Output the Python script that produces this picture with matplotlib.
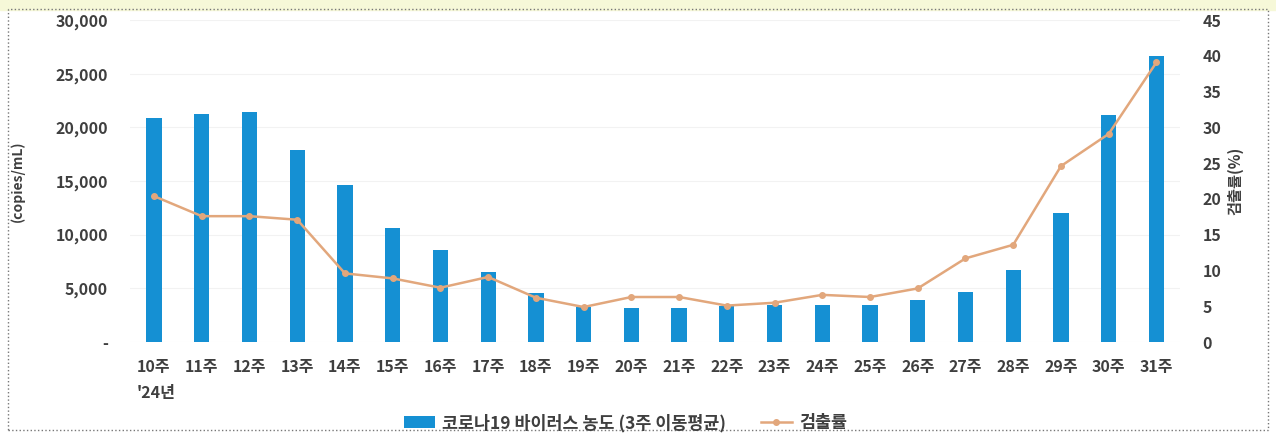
import numpy as np
import matplotlib
matplotlib.use('Agg')
import matplotlib.pyplot as plt
from matplotlib.patches import Rectangle

plt.rcParams['font.family'] = ['Noto Sans CJK KR', 'DejaVu Sans']

weeks = ['10주', '11주', '12주', '13주', '14주', '15주', '16주', '17주', '18주', '19주', '20주',
         '21주', '22주', '23주', '24주', '25주', '26주', '27주', '28주', '29주', '30주', '31주']
# 코로나19 바이러스 농도 (copies/mL, 3주 이동평균)
conc = [20900, 21300, 21400, 17900, 14600, 10600, 8600, 6500, 4600, 3300, 3200,
        3200, 3400, 3500, 3500, 3500, 3900, 4700, 6700, 12000, 21200, 26700]
# 검출률 (%)
rate = [20.4, 17.6, 17.6, 17.1, 9.6, 8.9, 7.6, 9.1, 6.2, 4.9, 6.3,
        6.3, 5.1, 5.5, 6.6, 6.3, 7.5, 11.7, 13.6, 24.6, 29.1, 39.1]

left_ticks = [0, 5000, 10000, 15000, 20000, 25000, 30000]
left_labels = ['-', '5,000', '10,000', '15,000', '20,000', '25,000', '30,000']
right_ticks = [0, 5, 10, 15, 20, 25, 30, 35, 40, 45]

txt = '#3f3f3f'
blue = '#1590d3'
orange = '#e2a77c'

fig = plt.figure(figsize=(12.76, 4.38), dpi=100)
ax = fig.add_axes([0.102, 0.219, 0.823, 0.735])
ax2 = ax.twinx()

x = np.arange(len(weeks))
ax.bar(x, conc, width=0.32, color=blue, zorder=2, label='코로나19 바이러스 농도 (3주 이동평균)')
ax2.plot(x, rate, color=orange, lw=1.8, marker='o', ms=4, zorder=3, label='검출률')

ax.set_xlim(-0.5, len(weeks) - 0.5)
ax.set_ylim(0, 30000)
ax2.set_ylim(0, 45)
ax.set_yticks(left_ticks)
ax.set_yticklabels(left_labels)
ax2.set_yticks(right_ticks)
ax.set_xticks(x)
ax.set_xticklabels(weeks)

for a in (ax, ax2):
    for s in a.spines.values():
        s.set_visible(False)
    a.tick_params(length=0, colors=txt, labelsize=11.5)
    for lab in a.get_xticklabels() + a.get_yticklabels():
        lab.set_fontweight('bold')
ax.tick_params(axis='y', pad=16)
ax2.tick_params(axis='y', pad=16)
ax.tick_params(axis='x', pad=12)
ax.grid(axis='y', color='#f2f2f2', lw=0.8, zorder=0)
ax.set_zorder(ax2.get_zorder() - 1)
ax2.patch.set_visible(False)

ax.set_ylabel('(copies/mL)', color=txt, fontsize=10, fontweight='bold', labelpad=22)
ax2.set_ylabel('검출률(%)', color=txt, fontsize=11, fontweight='bold', rotation=90, labelpad=4)

fig.text(0.122, 0.103, "'24년", color=txt, fontsize=11.5, fontweight='bold', ha='center', va='center')

h1, l1 = ax.get_legend_handles_labels()
h2, l2 = ax2.get_legend_handles_labels()
leg = fig.legend(h1 + h2, l1 + l2, loc='center', bbox_to_anchor=(0.49, 0.034), ncol=2,
                 frameon=False, fontsize=12.5, columnspacing=2.0, handlelength=1.8,
                 handletextpad=0.4)
for t in leg.get_texts():
    t.set_color(txt)
    t.set_fontweight('bold')

# dotted frame around the chart and page background strip
fig.patches.append(Rectangle((0, 0.978), 1, 0.022, transform=fig.transFigure,
                             color='#f6f8d8', zorder=0))
fig.patches.append(Rectangle((0.006, 0.018), 0.988, 0.962, transform=fig.transFigure,
                             fill=False, ls=':', lw=1, ec='#777777', zorder=1))

fig.savefig('out.png', dpi=100)
